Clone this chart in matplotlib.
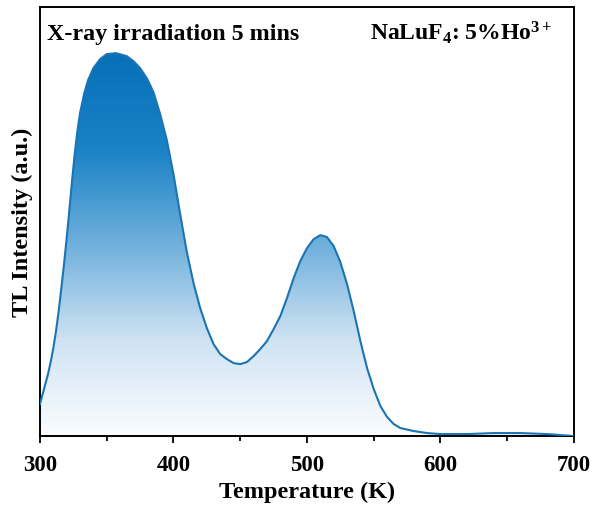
import numpy as np
import matplotlib
matplotlib.use('Agg')
import matplotlib.pyplot as plt
from matplotlib.colors import LinearSegmentedColormap
from matplotlib.ticker import MultipleLocator

plt.rcParams['font.family'] = 'Liberation Serif'
plt.rcParams['font.weight'] = 'bold'
plt.rcParams['mathtext.fontset'] = 'custom'
plt.rcParams['mathtext.rm'] = 'Liberation Serif:bold'
plt.rcParams['mathtext.bf'] = 'Liberation Serif:bold'
plt.rcParams['mathtext.it'] = 'Liberation Serif:bold'

#%% data
temp = [300, 302, 304, 306, 308, 310, 312, 314, 316, 318, 320, 322, 324, 326,
        328, 330, 333, 336, 340, 345, 350, 357, 365, 370, 375, 380, 385, 390,
        395, 400, 405, 410, 415, 420, 425, 430, 435, 440, 445, 450, 455, 460,
        465, 470, 475, 480, 485, 490, 495, 500, 505, 510, 515, 520, 525, 530,
        535, 540, 545, 550, 555, 560, 565, 570, 580, 590, 600, 620, 640, 660,
        680, 700]
tl = [32, 42, 52, 62, 74, 88, 105, 125, 148, 172, 198, 226, 255, 282,
      305, 323, 342, 356, 368, 377, 382, 383, 380, 375, 368, 358, 344, 322,
      296, 262, 222, 184, 153, 128, 108, 92, 82, 77, 73, 72, 74, 80,
      87, 95, 107, 120, 138, 158, 175, 188, 197, 201, 199, 190, 174, 152,
      125, 95, 68, 47, 30, 19, 12, 8, 5, 3, 2, 2, 3, 3,
      2, 0]

x = np.array(temp)
y = np.array(tl)

#%%
fig = plt.figure(figsize=(5.95, 5.10), dpi=100)
ax = fig.add_axes([0.0672, 0.143, 0.8975, 0.841])

cmap = LinearSegmentedColormap.from_list('bl', ['#fbfdff', '#cfe3f3', '#6fb0dc', '#1a82c6', '#0670b8'])
grad = np.linspace(0, 1, 256).reshape(-1, 1)
im = ax.imshow(grad, extent=[300, 700, 0, 383], origin='lower', aspect='auto',
               cmap=cmap, zorder=1)
poly = ax.fill_between(x, y, 0, color='none', lw=0)
im.set_clip_path(poly.get_paths()[0], transform=ax.transData)

ax.plot(x, y, color='#1b74b3', lw=1.5, zorder=3)

ax.set_xlim(300, 700)
ax.set_ylim(0, 429)
ax.xaxis.set_major_locator(MultipleLocator(100))
ax.xaxis.set_minor_locator(MultipleLocator(50))
ax.tick_params(axis='x', which='major', direction='out', length=5, width=1.3,
               labelsize=16.5, pad=8)
ax.tick_params(axis='x', which='minor', direction='out', length=3.5, width=1.3)
ax.set_yticks([])
for s in ax.spines.values():
    s.set_linewidth(1.4)

ax.set_xlabel('Temperature (K)', fontsize=17.5, fontweight='bold', labelpad=4)
ax.set_ylabel('TL Intensity (a.u.)', fontsize=17.5, fontweight='bold', labelpad=5)

ax.text(0.013, 0.925, 'X-ray irradiation 5 mins', transform=ax.transAxes,
        fontsize=17.3, fontweight='bold', va='baseline', ha='left')
ax.text(0.618, 0.925, r'NaLuF$_{4}$: 5%Ho$^{3+}$', transform=ax.transAxes,
        fontsize=17, fontweight='bold', va='baseline', ha='left')

plt.savefig('out.png', dpi=100)
